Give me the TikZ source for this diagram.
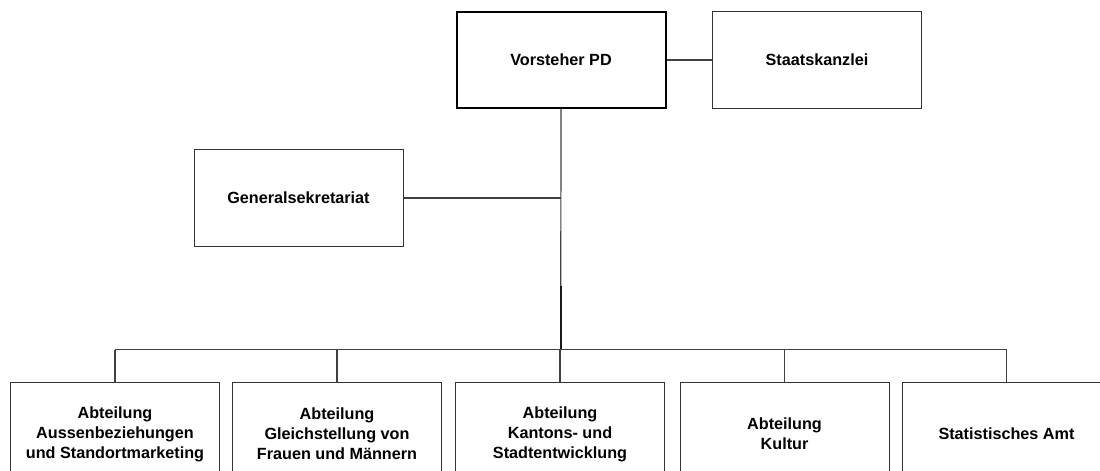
\documentclass[tikz,border=0pt]{standalone}
\usepackage{fontspec}
\setmainfont{Liberation Sans}
\begin{document}
\begin{tikzpicture}[x=0.5pt,y=-0.5pt,
  box/.style={draw=black!80,line width=0.5pt,fill=white,minimum width=104.5pt,inner sep=0pt,align=center,font=\fontsize{8.1pt}{10pt}\selectfont\bfseries},
  topbox/.style={box,minimum height=48.5pt},
  headbox/.style={box,draw=black,line width=1pt,minimum width=104.5pt,minimum height=48pt},
  botbox/.style={box,minimum height=51.5pt},
  conn/.style={draw=black!75,line width=0.6pt}]
\useasboundingbox (0,0) rectangle (1100,471);
\fill[white] (0,0) rectangle (1100,471);
\node[headbox] (vpd) at (561,60) {Vorsteher PD};
\node[topbox] (sk) at (817,60) {Staatskanzlei};
\node[topbox] (gs) at (298.5,198) {Generalsekretariat};
\node[botbox] (a1) at (115,434) {Abteilung\\Aussenbeziehungen\\und Standortmarketing};
\node[botbox] (a2) at (337,434) {Abteilung\\Gleichstellung von\\Frauen und Männern};
\node[botbox] (a3) at (560,434) {Abteilung\\Kantons- und\\Stadtentwicklung};
\node[botbox] (a4) at (784.5,434) {Abteilung\\Kultur};
\node[botbox] (a5) at (1006.5,434) {Statistisches Amt};
\coordinate (bus) at (560.7,349.6);
\coordinate (mid) at (560.7,286);
\draw[conn] (vpd.east) -- (sk.west);
\draw[conn] (vpd.south) -- (bus);
\draw[draw=black!90,line width=0.9pt] (mid) -- (bus);
\draw[conn] (gs.east) -- (gs.east -| vpd.south);
\draw[conn] (a1.north |- bus) -- (a5.north |- bus);
\foreach \n in {a1,a2,a3,a4,a5}{\draw[conn] (\n.north |- bus) -- (\n.north);}
\end{tikzpicture}
\end{document}
